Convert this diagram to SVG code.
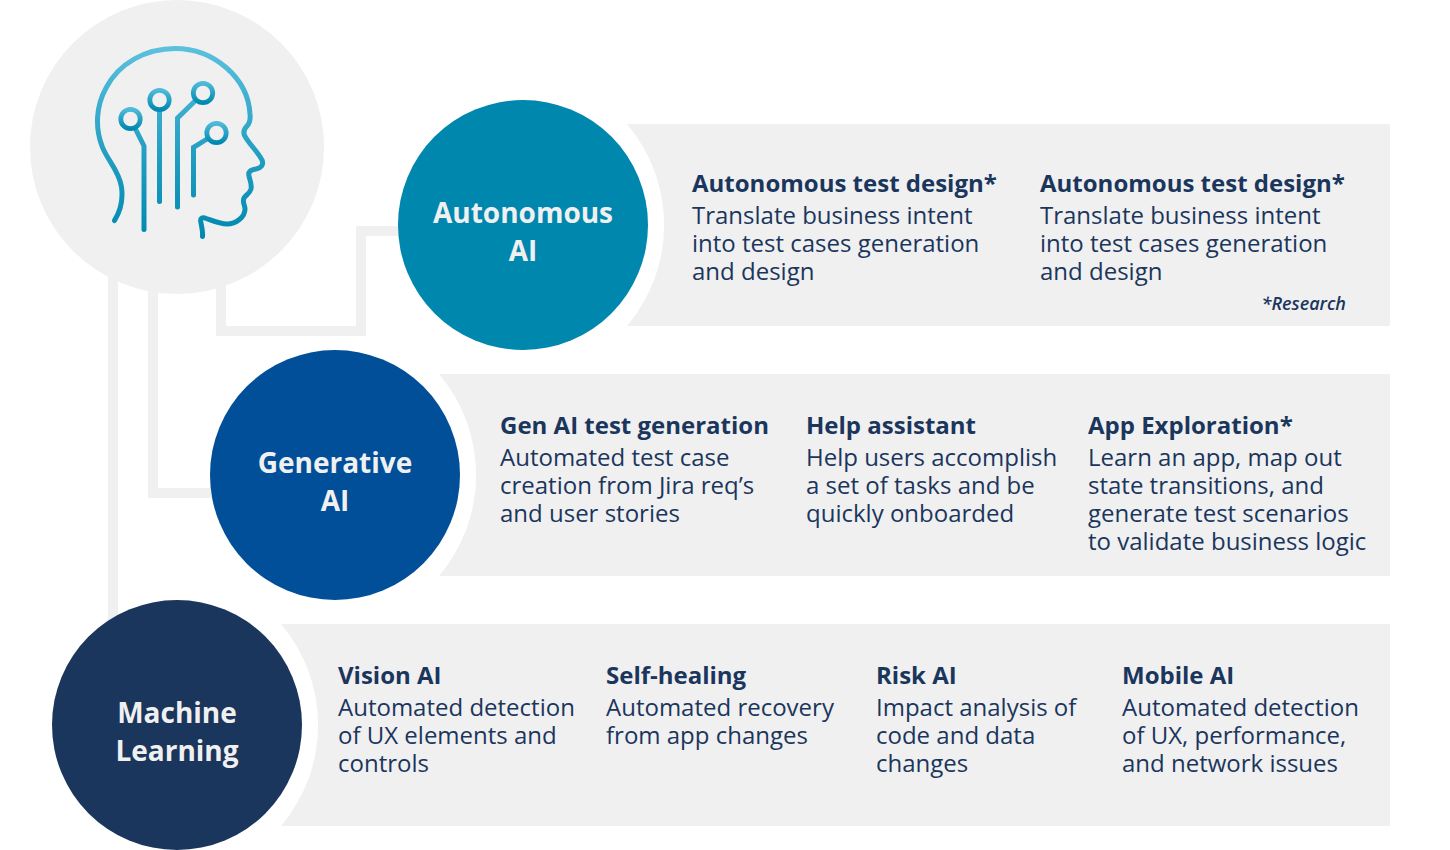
<svg xmlns="http://www.w3.org/2000/svg" width="1450" height="850" viewBox="0 0 1450 850">
<style>
text{font-family:"Open Sans","Noto Sans",sans-serif;fill:#1b365d}
.h{font-size:24px;font-weight:700}
.b{font-size:24px;font-weight:400}
.c{font-size:28px;font-weight:700;fill:#f0f0f0;text-anchor:middle}
.r{font-size:18px;font-weight:600;font-style:italic;text-anchor:end}
.p{fill:#f0f0f0}
.l{fill:none;stroke:#f0f0f0;stroke-width:10}
.i{fill:none;stroke:url(#g);stroke-width:5;stroke-linecap:round;stroke-linejoin:miter}
.ir{fill:none;stroke-width:4.8}
</style>
<defs>
<linearGradient id="g" gradientUnits="userSpaceOnUse" x1="0" y1="46" x2="0" y2="238"><stop offset="0" stop-color="#5cc1de"/><stop offset="0.6" stop-color="#1f9cc0"/><stop offset="1" stop-color="#0089b0"/></linearGradient>
<linearGradient id="g2" x1="0" y1="0" x2="0" y2="1"><stop offset="0" stop-color="#4fbad9"/><stop offset="1" stop-color="#0089b0"/></linearGradient>
</defs>
<g id="connectors">
<path class="l" d="M113 270V625"/>
<path class="l" d="M153 285V493H220"/>
<path class="l" d="M221 280V331H361V231H405"/>
</g>
<g id="brain">
<circle class="p" cx="177" cy="147" r="147"/>
<path class="i" d="M114.500 220.500C121 210 123 198 121.500 187C119 170 107 160 102 146C95 128 96 106 106 88C119 63 146 48.500 175 48.500C214 48.500 248 78 250 114C250.500 119 250 123 247 126C243 130 243 134 246 138C251 146 258 152 262 160C264 165 261 168 256 169C250 170 248 172 249 176C250 181 252 184 251 189C250 193 246 195 244 198C242 202 245 205 245 209C245 217 236 224 227 224C219 224 211 220 205 218C201 217 200 219 201 223C202 228 203 232 202.500 236.500"/>
<path class="i" d="M136 130L144 146V229.500"/>
<path class="i" d="M159.500 111V201.500"/>
<path class="i" d="M195 101L177.500 118V207"/>
<path class="i" d="M207 139L193.500 147.500V195"/>
<circle class="ir" stroke="url(#g2)" cx="130.500" cy="119" r="9.700"/>
<circle class="ir" stroke="url(#g2)" cx="159.500" cy="100" r="9.700"/>
<circle class="ir" stroke="url(#g2)" cx="203" cy="93" r="9.700"/>
<circle class="ir" stroke="url(#g2)" cx="216.500" cy="133" r="9.700"/>
</g>
<g id="autonomous">
<path class="p" d="M627 124H1390V326H627A156 156 0 0 0 627 124Z"/>
<circle fill="#0087ae" cx="523" cy="225" r="125"/>
<text class="c" x="523" y="223">Autonomous</text>
<text class="c" x="523" y="261">AI</text>
<text class="h" x="692" y="192">Autonomous test design*</text>
<text class="b"><tspan x="692" y="224">Translate business intent</tspan><tspan x="692" y="252">into test cases generation</tspan><tspan x="692" y="280">and design</tspan></text>
<text class="h" x="1040" y="192">Autonomous test design*</text>
<text class="b"><tspan x="1040" y="224">Translate business intent</tspan><tspan x="1040" y="252">into test cases generation</tspan><tspan x="1040" y="280">and design</tspan></text>
<text class="r" x="1346" y="310">*Research</text>
</g>
<g id="generative">
<path class="p" d="M439 374H1390V576H439A156 156 0 0 0 439 374Z"/>
<circle fill="#004f98" cx="335" cy="475" r="125"/>
<text class="c" x="335" y="473">Generative</text>
<text class="c" x="335" y="511">AI</text>
<text class="h" x="500" y="434">Gen AI test generation</text>
<text class="b"><tspan x="500" y="466">Automated test case</tspan><tspan x="500" y="494">creation from Jira req’s</tspan><tspan x="500" y="522">and user stories</tspan></text>
<text class="h" x="806" y="434">Help assistant</text>
<text class="b"><tspan x="806" y="466">Help users accomplish</tspan><tspan x="806" y="494">a set of tasks and be</tspan><tspan x="806" y="522">quickly onboarded</tspan></text>
<text class="h" x="1088" y="434">App Exploration*</text>
<text class="b"><tspan x="1088" y="466">Learn an app, map out</tspan><tspan x="1088" y="494">state transitions, and</tspan><tspan x="1088" y="522">generate test scenarios</tspan><tspan x="1088" y="550">to validate business logic</tspan></text>
</g>
<g id="machine-learning">
<path class="p" d="M281 624H1390V826H281A156 156 0 0 0 281 624Z"/>
<circle fill="#1b365d" cx="177" cy="725" r="125"/>
<text class="c" x="177" y="723">Machine</text>
<text class="c" x="177" y="761">Learning</text>
<text class="h" x="338" y="684">Vision AI</text>
<text class="b"><tspan x="338" y="716">Automated detection</tspan><tspan x="338" y="744">of UX elements and</tspan><tspan x="338" y="772">controls</tspan></text>
<text class="h" x="606" y="684">Self-healing</text>
<text class="b"><tspan x="606" y="716">Automated recovery</tspan><tspan x="606" y="744">from app changes</tspan></text>
<text class="h" x="876" y="684">Risk AI</text>
<text class="b"><tspan x="876" y="716">Impact analysis of</tspan><tspan x="876" y="744">code and data</tspan><tspan x="876" y="772">changes</tspan></text>
<text class="h" x="1122" y="684">Mobile AI</text>
<text class="b"><tspan x="1122" y="716">Automated detection</tspan><tspan x="1122" y="744">of UX, performance,</tspan><tspan x="1122" y="772">and network issues</tspan></text>
</g>
</svg>
